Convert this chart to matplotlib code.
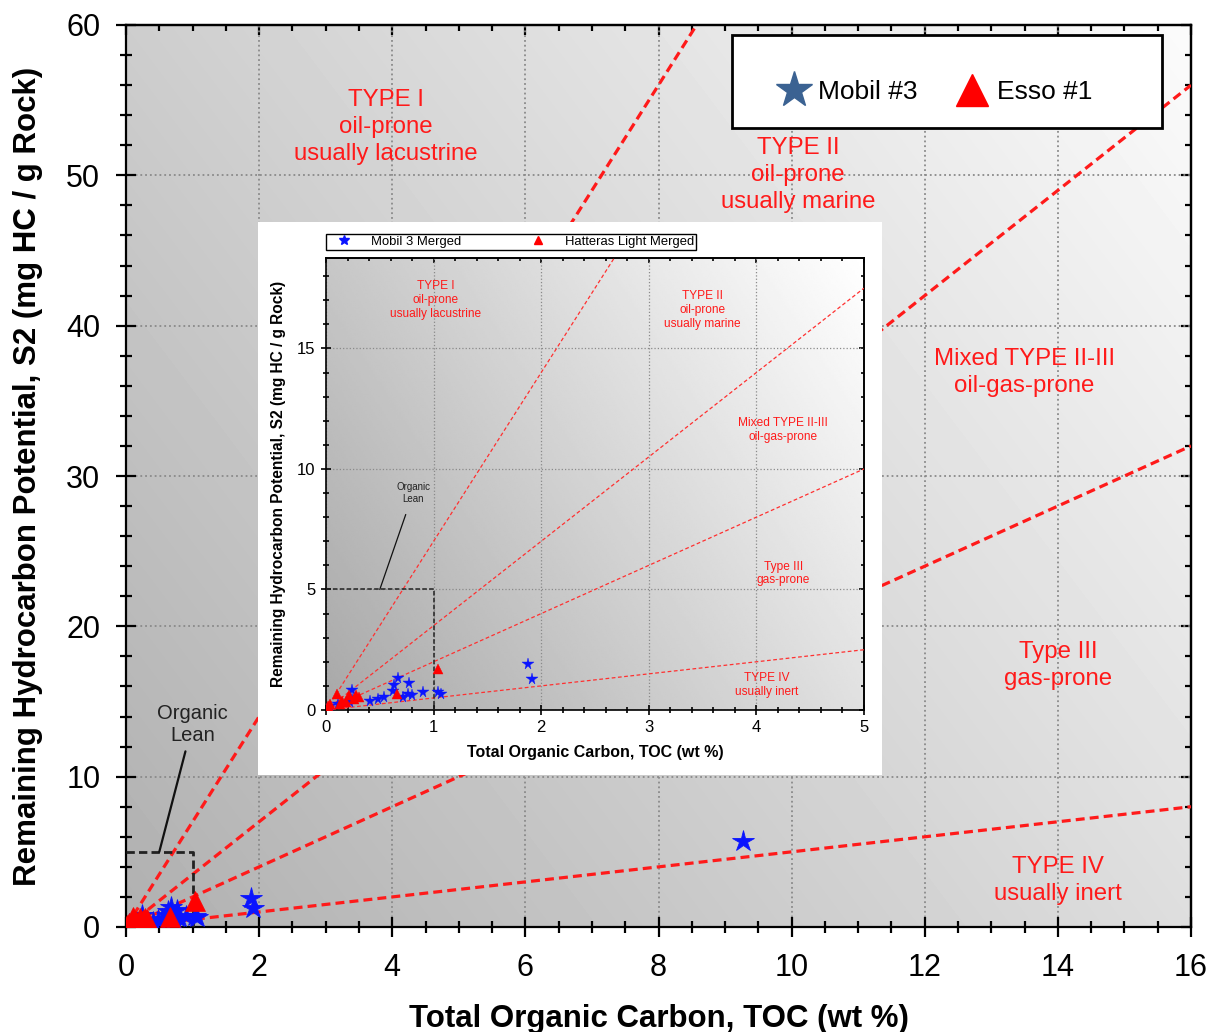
#!/usr/bin/env python
# coding: utf-8

#%% ---- DEPENDENCIES
import numpy as np
import matplotlib
matplotlib.use("Agg")
import matplotlib.pyplot as plt
from matplotlib.lines import Line2D
from matplotlib.patches import Rectangle
from matplotlib.ticker import MultipleLocator

plt.rcParams['font.family'] = ['Liberation Sans', 'DejaVu Sans']

#%% ---- DATA
# Mobil #3 (blue stars)
mobil_toc = [1.88, 1.91, 0.67, 0.63, 0.62, 0.77, 0.76, 0.80, 0.72, 0.90, 1.04, 1.07,
             0.54, 0.48, 0.41, 0.24, 0.24, 0.22, 0.04, 0.11, 9.27]
mobil_s2 = [1.92, 1.27, 1.34, 1.05, 0.79, 1.12, 0.68, 0.64, 0.54, 0.76, 0.76, 0.68,
            0.54, 0.44, 0.36, 0.83, 0.47, 0.32, 0.17, 0.25, 5.70]
# Esso #1 (red triangles)
esso_toc = [1.04, 0.66, 0.10, 0.04, 0.15, 0.21, 0.26, 0.31, 0.02, 0.19, 0.13, 0.28]
esso_s2 = [1.70, 0.68, 0.68, 0.25, 0.39, 0.61, 0.47, 0.54, 0.15, 0.32, 0.25, 0.61]

# kerogen type boundaries, S2/TOC (HI = 700, 350, 200, 50)
slopes = [7.0, 3.5, 2.0, 0.5]

zone_names = ["TYPE I\noil-prone\nusually lacustrine",
              "TYPE II\noil-prone\nusually marine",
              "Mixed TYPE II-III\noil-gas-prone",
              "Type III\ngas-prone",
              "TYPE IV\nusually inert"]
main_zone_xy = [(3.9, 53.2), (10.1, 50.0), (13.5, 36.9), (14.0, 17.4), (14.0, 3.1)]
inset_zone_xy = [(1.02, 17.0), (3.5, 16.6), (4.25, 11.6), (4.25, 5.66), (4.1, 1.05)]

lean_toc = [0, 1, 1]
lean_s2 = [5, 5, 0]

RED = '#ff1a1a'


#%% ---- FUNCTIONS
def add_gradient(ax, lo, du, dv):
    """grey background, dark at lower left, light at upper right"""
    u, v = np.meshgrid(np.linspace(0, 1, 256), np.linspace(0, 1, 256))
    g = lo + du * u + dv * v
    ax.imshow(g, extent=(0, 1, 0, 1), transform=ax.transAxes, origin='lower',
              cmap='gray', vmin=0, vmax=1, aspect='auto', zorder=0,
              interpolation='bilinear')


def style_axes(ax, xmaj, xmin, ymaj, ymin, lw, majlen, minlen, labelsize, pad):
    ax.xaxis.set_major_locator(MultipleLocator(xmaj))
    ax.xaxis.set_minor_locator(MultipleLocator(xmin))
    ax.yaxis.set_major_locator(MultipleLocator(ymaj))
    ax.yaxis.set_minor_locator(MultipleLocator(ymin))
    ax.tick_params(which='both', direction='inout', width=lw, labelsize=labelsize, pad=pad)
    ax.tick_params(which='major', length=majlen)
    ax.tick_params(which='minor', length=minlen)
    for sp in ax.spines.values():
        sp.set_linewidth(lw)
    # inward ticks on top / right
    top = ax.secondary_xaxis('top')
    top.xaxis.set_major_locator(MultipleLocator(xmaj))
    top.xaxis.set_minor_locator(MultipleLocator(xmin))
    top.tick_params(which='both', direction='in', width=lw, labeltop=False)
    top.tick_params(which='major', length=majlen / 2)
    top.tick_params(which='minor', length=minlen / 2)
    top.spines['top'].set_linewidth(lw)
    right = ax.secondary_yaxis('right')
    right.yaxis.set_major_locator(MultipleLocator(ymaj))
    right.yaxis.set_minor_locator(MultipleLocator(ymin))
    right.tick_params(which='both', direction='in', width=lw, labelright=False)
    right.tick_params(which='major', length=majlen / 2)
    right.tick_params(which='minor', length=minlen / 2)
    right.spines['right'].set_linewidth(lw)


#%% ---- MAIN PLOT
fig = plt.figure(figsize=(12.15, 10.32), dpi=100)
ax = fig.add_axes([126 / 1215, 1 - 927 / 1032, 1065 / 1215, 902 / 1032])

add_gradient(ax, 0.69, 0.18, 0.115)
ax.grid(which='major', linestyle=':', color='#8a8a8a', linewidth=1.3)

xmax, ymax = 16, 60
for s in slopes:
    ax.plot([0, xmax], [0, xmax * s], color=RED, lw=2.3, dashes=(2.8, 1.6), zorder=3)

ax.plot(lean_toc, lean_s2, color='#222222', lw=2, dashes=(3, 1.5), zorder=3)
ax.annotate("Organic\nLean", xy=(0.5, 5), xytext=(1.0, 13.5), ha='center', va='center',
            fontsize=14.5, color='#222222',
            arrowprops=dict(arrowstyle='-', color='#111111', lw=1.6, shrinkA=3, shrinkB=0))

for name, (x, y) in zip(zone_names, main_zone_xy):
    ax.text(x, y, name, ha='center', va='center', color=RED, fontsize=17.3, linespacing=1.3)

ax.plot(mobil_toc, mobil_s2, ls='none', marker='*', color='#0a14ff', markersize=16,
        markeredgewidth=0.6, zorder=5)
ax.plot(esso_toc, esso_s2, ls='none', marker='^', color='#ff0000', markersize=15,
        markeredgewidth=0.5, zorder=6)

ax.set_xlim(0, xmax)
ax.set_ylim(0, ymax)
style_axes(ax, 2, 0.5, 10, 2, 1.6, 15, 8, 22, 11)
ax.set_xlabel("Total Organic Carbon, TOC (wt %)", fontsize=22.5, fontweight='bold', labelpad=15)
ax.set_ylabel("Remaining Hydrocarbon Potential, S2 (mg HC / g Rock)", fontsize=22.5,
              fontweight='bold', labelpad=17)

# legend box (frame drawn separately, entries sit low inside it)
ax.add_patch(Rectangle((0.569, 0.886), 0.404, 0.103, transform=ax.transAxes,
                       facecolor='white', edgecolor='black', lw=2, zorder=9))
handles = [Line2D([], [], ls='none', marker='*', color='#3b6292', markersize=27),
           Line2D([], [], ls='none', marker='^', color='#ff0000', markersize=23)]
leg = ax.legend(handles, ["Mobil #3", "Esso #1"], ncol=2, loc='center left',
                bbox_to_anchor=(0.611, 0.926), fontsize=19, frameon=False,
                borderpad=0, handlelength=1.3, handletextpad=0.28,
                columnspacing=1.4, borderaxespad=0)
leg.set_zorder(10)

#%% ---- INSET (white panel with the zoomed plot)
bg = fig.add_axes([258 / 1215, 1 - 775 / 1032, 624 / 1215, 553 / 1032], zorder=2)
bg.set_facecolor('white')
bg.set_xticks([])
bg.set_yticks([])
for sp in bg.spines.values():
    sp.set_visible(False)

axi = fig.add_axes([326 / 1215, 1 - 710 / 1032, 538 / 1215, 452 / 1032], zorder=3)
add_gradient(axi, 0.66, 0.22, 0.12)
axi.grid(which='major', linestyle=':', color='#8a8a8a', linewidth=0.9)

ixmax, iymax = 5, 18.75
for s in slopes:
    axi.plot([0, ixmax], [0, ixmax * s], color='#ff3030', lw=0.9, dashes=(3, 2), zorder=3)
axi.plot(lean_toc, lean_s2, color='#222222', lw=1.1, dashes=(3, 1.5), zorder=3)
axi.annotate("Organic\nLean", xy=(0.5, 5.0), xytext=(0.81, 9.0), ha='center', va='center',
             fontsize=7, color='#222222',
             arrowprops=dict(arrowstyle='-', color='#111111', lw=0.9, shrinkA=6, shrinkB=0))
for name, (x, y) in zip(zone_names, inset_zone_xy):
    axi.text(x, y, name, ha='center', va='center', color=RED, fontsize=8.6, linespacing=1.2)

axi.plot(mobil_toc, mobil_s2, ls='none', marker='*', color='#0a14ff', markersize=8.5,
         markeredgewidth=0.3, zorder=5)
axi.plot(esso_toc, esso_s2, ls='none', marker='^', color='#ff0000', markersize=7.5,
         markeredgewidth=0.3, zorder=6)

axi.set_xlim(0, ixmax)
axi.set_ylim(0, iymax)
style_axes(axi, 1, 0.2, 5, 1, 1.2, 7, 4, 12, 4)
axi.set_xlabel("Total Organic Carbon, TOC (wt %)", fontsize=11.5, fontweight='bold', labelpad=7)
axi.set_ylabel("Remaining Hydrocarbon Potential, S2 (mg HC / g Rock)", fontsize=11.2,
               fontweight='bold', labelpad=8)

ihandles = [Line2D([], [], ls='none', marker='*', color='#0a14ff', markersize=7),
            Line2D([], [], ls='none', marker='^', color='#ff0000', markersize=6)]
ileg = axi.legend(ihandles, ["Mobil 3 Merged", "Hatteras Light Merged"], ncol=2,
                  loc='lower left', bbox_to_anchor=(0, 1.018, 0.688, 0.0), mode='expand',
                  fontsize=9.4, frameon=True, fancybox=False, framealpha=1,
                  edgecolor='black', borderpad=0.15, handlelength=2.4,
                  handletextpad=0.9, columnspacing=1.5, borderaxespad=0)
ileg.get_frame().set_linewidth(1)

plt.savefig("out.png", dpi=100)
